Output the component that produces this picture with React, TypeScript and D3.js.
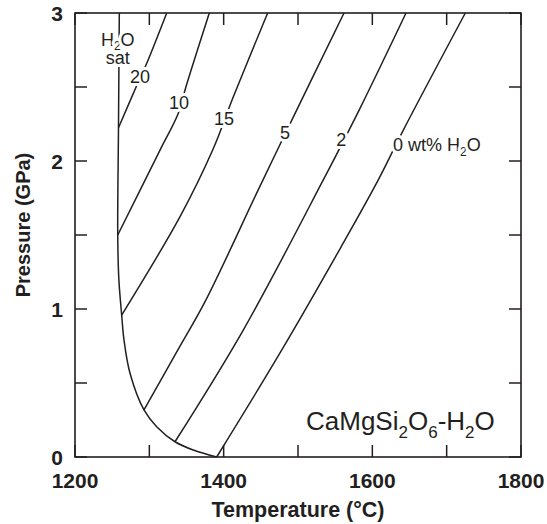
import { useEffect, useRef } from 'react';
import * as d3 from 'd3';

// tick values
const xTickValues = [1200, 1300, 1400, 1500, 1600, 1700, 1800];
const xTickLabels = [1200, 1400, 1600, 1800];
const yTickValues = [0, 0.5, 1, 1.5, 2, 2.5, 3];
const yTickLabels = [0, 1, 2, 3];

// H2O saturated solidus [T °C, P GPa]
const satCurve: [number, number][] = [
  [1259.6, 3.0], [1258.5, 2.225], [1257.5, 1.5], [1259, 1.2], [1262.8, 0.959],
  [1265.9, 0.791], [1274, 0.566], [1292.8, 0.318], [1309.9, 0.205],
  [1334.5, 0.103], [1359.1, 0.047], [1390.6, 0.0],
];

// isopleths (label as shown on the figure)
const curve20: [number, number][] = [[1258.5, 2.225], [1284.4, 2.525], [1296.5, 2.66], [1323.4, 3.0]];
const curve10: [number, number][] = [[1257.5, 1.5], [1314.4, 2.074], [1339, 2.322], [1349.3, 2.502], [1380.7, 3.0]];
const curve15: [number, number][] = [[1262.8, 0.959], [1341.3, 1.624], [1385.2, 2.074], [1413, 2.434], [1459.2, 3.0]];
const curve5: [number, number][] = [[1292.8, 0.318], [1338, 0.72], [1376, 1.06], [1446, 1.8], [1492, 2.28], [1561.9, 3.0]];
const curve2: [number, number][] = [[1334.5, 0.103], [1426.4, 0.858], [1534, 1.872], [1583.4, 2.356], [1645.3, 3.0]];
const curve0: [number, number][] = [[1390.6, 0.0], [1475.8, 0.703], [1556.9, 1.41], [1608, 1.872], [1641.7, 2.209], [1725.1, 3.0]];

const curves = [satCurve, curve20, curve10, curve15, curve5, curve2, curve0];

// label anchors [T, P, text]
const curveLabels: [number, number, string][] = [
  [1287.4, 2.568, '20'],
  [1339.9, 2.392, '10'],
  [1400.4, 2.284, '15'],
  [1482.5, 2.189, '5'],
  [1558.1, 2.142, '2'],
];

const ink = '#231f20';
const font = '"Liberation Sans", Arial, sans-serif';

const App = () => {
  const svgRef = useRef<SVGSVGElement>(null);

  useEffect(() => {
    document.body.style.margin = '0';
    const width = 547;
    const height = 524;
    const margin = { top: 13, right: 26, bottom: 67, left: 75 };

    const root = d3.select(svgRef.current);
    root.selectAll('*').remove();
    root.attr('width', width).attr('height', height);

    const x = d3.scaleLinear().domain([1200, 1800]).range([margin.left, width - margin.right]);
    const y = d3.scaleLinear().domain([0, 3]).range([height - margin.bottom, margin.top]);

    const g = root.append('g');

    // curves
    const line = d3
      .line<[number, number]>()
      .x((d) => x(d[0]))
      .y((d) => y(d[1]))
      .curve(d3.curveCatmullRom.alpha(0.5));

    curves.forEach((c) => {
      g.append('path')
        .attr('d', line(c))
        .attr('fill', 'none')
        .attr('stroke', ink)
        .attr('stroke-width', 1.5);
    });

    // curve labels with white halo to break the line
    const halo = (sel: any) =>
      sel
        .attr('fill', ink)
        .attr('stroke', 'white')
        .attr('stroke-width', 6)
        .attr('stroke-linejoin', 'round')
        .style('paint-order', 'stroke')
        .style('font-family', font)
        .style('font-size', '18px');

    curveLabels.forEach(([t, p, s]) => {
      g.append('text')
        .attr('x', x(t))
        .attr('y', y(p))
        .attr('dy', '0.35em')
        .attr('text-anchor', 'middle')
        .call(halo)
        .text(s);
    });

    const zero = g
      .append('text')
      .attr('x', x(1627.8))
      .attr('y', y(2.108))
      .attr('dy', '0.35em')
      .call(halo);
    zero.append('tspan').text('0 wt% H');
    zero.append('tspan').attr('dy', 5).style('font-size', '12px').text('2');
    zero.append('tspan').attr('dy', -5).text('O');

    // H2O sat label
    g.append('text')
      .attr('x', x(1257.5))
      .attr('y', y(2.655))
      .attr('text-anchor', 'middle')
      .call(halo)
      .text('sat');
    const sat = g
      .append('text')
      .attr('x', x(1257.5))
      .attr('y', y(2.775))
      .attr('text-anchor', 'middle')
      .call(halo);
    sat.append('tspan').text('H');
    sat.append('tspan').attr('dy', 4).style('font-size', '12px').text('2');
    sat.append('tspan').attr('dy', -4).text('O');

    // system label
    const sys = g
      .append('text')
      .attr('x', x(1510.8))
      .attr('y', y(0.182))
      .attr('fill', ink)
      .style('font-family', font)
      .style('font-size', '26px');
    sys.append('tspan').text('CaMgSi');
    sys.append('tspan').attr('dy', 8).style('font-size', '17px').text('2');
    sys.append('tspan').attr('dy', -8).text('O');
    sys.append('tspan').attr('dy', 8).style('font-size', '17px').text('6');
    sys.append('tspan').attr('dy', -8).text('-H');
    sys.append('tspan').attr('dy', 8).style('font-size', '17px').text('2');
    sys.append('tspan').attr('dy', -8).text('O');

    // frame
    g.append('rect')
      .attr('x', x(1200))
      .attr('y', y(3))
      .attr('width', x(1800) - x(1200))
      .attr('height', y(0) - y(3))
      .attr('fill', 'none')
      .attr('stroke', ink)
      .attr('stroke-width', 1.6);

    // inward ticks on all four sides
    const tk = 12;
    xTickValues.forEach((v) => {
      g.append('line')
        .attr('x1', x(v)).attr('x2', x(v))
        .attr('y1', y(0)).attr('y2', y(0) - tk)
        .attr('stroke', ink).attr('stroke-width', 1.5);
      g.append('line')
        .attr('x1', x(v)).attr('x2', x(v))
        .attr('y1', y(3)).attr('y2', y(3) + tk)
        .attr('stroke', ink).attr('stroke-width', 1.5);
    });
    yTickValues.forEach((v) => {
      g.append('line')
        .attr('x1', x(1200)).attr('x2', x(1200) + tk)
        .attr('y1', y(v)).attr('y2', y(v))
        .attr('stroke', ink).attr('stroke-width', 1.5);
      g.append('line')
        .attr('x1', x(1800)).attr('x2', x(1800) - tk)
        .attr('y1', y(v)).attr('y2', y(v))
        .attr('stroke', ink).attr('stroke-width', 1.5);
    });

    // tick labels
    xTickLabels.forEach((v) => {
      g.append('text')
        .attr('x', x(v))
        .attr('y', y(0) + 31)
        .attr('text-anchor', 'middle')
        .attr('fill', ink)
        .style('font-family', font)
        .style('font-size', '21px')
        .style('font-weight', 'bold')
        .text(v);
    });
    yTickLabels.forEach((v) => {
      g.append('text')
        .attr('x', x(1200) - 12)
        .attr('y', y(v))
        .attr('dy', '0.36em')
        .attr('text-anchor', 'end')
        .attr('fill', ink)
        .style('font-family', font)
        .style('font-size', '21px')
        .style('font-weight', 'bold')
        .text(v);
    });

    // axis titles
    g.append('text')
      .attr('x', (x(1200) + x(1800)) / 2)
      .attr('y', y(0) + 60)
      .attr('text-anchor', 'middle')
      .attr('fill', ink)
      .style('font-family', font)
      .style('font-size', '21.5px')
      .style('font-weight', 'bold')
      .text('Temperature (°C)');

    g.append('text')
      .attr('transform', `translate(30,225) rotate(-90)`)
      .attr('text-anchor', 'middle')
      .attr('fill', ink)
      .style('font-family', font)
      .style('font-size', '20px')
      .style('font-weight', 'bold')
      .text('Pressure (GPa)');
  }, []);

  return <svg ref={svgRef} style={{ display: 'block' }}></svg>;
};

export default App;
